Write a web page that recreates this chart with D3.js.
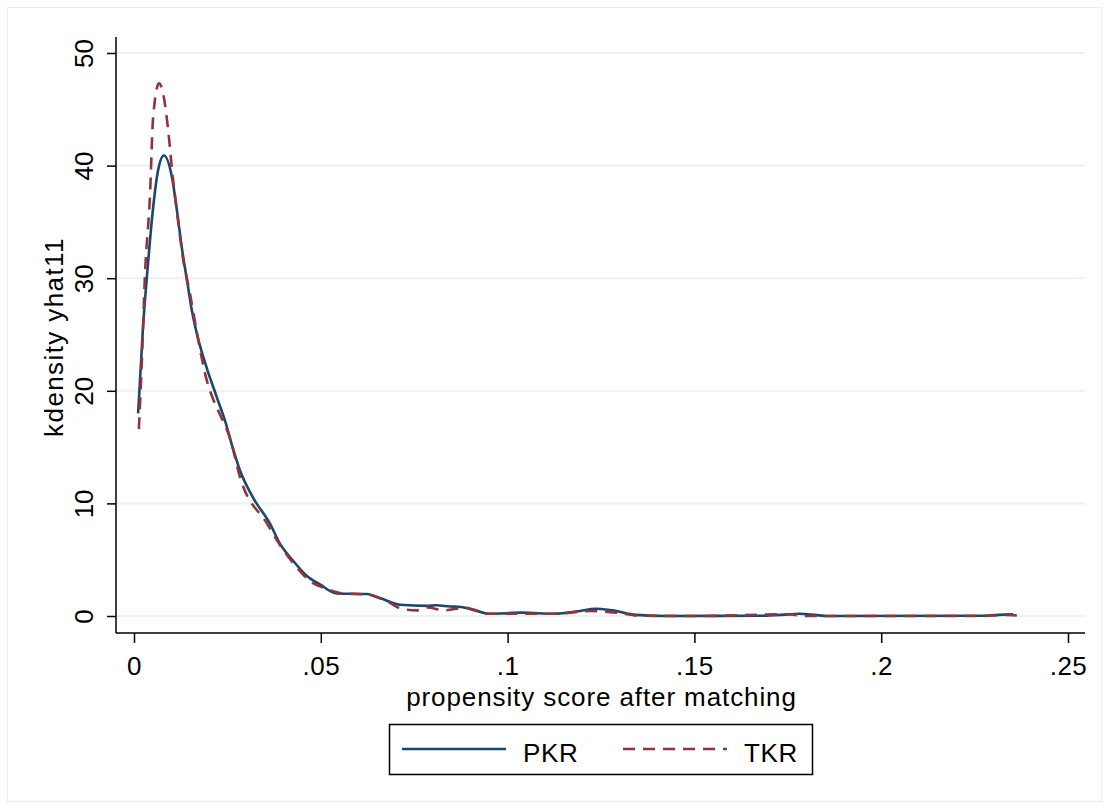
<!DOCTYPE html>
<html>
<head>
<meta charset="utf-8">
<script src="https://cdn.jsdelivr.net/npm/d3@7"></script>
<style>
  body { margin: 0; background: #fff; }
  svg text { font-family: "Liberation Sans", Arial, sans-serif; fill: #000; }
</style>
</head>
<body>
<svg id="canvas" width="1109" height="809"></svg>
<script>
// kdensity curves: [score, density]
const pkr = [
  [0.0011, 18.0], [0.0024, 25.6], [0.0038, 31.5], [0.0051, 36.2], [0.0064, 39.5],
  [0.0080, 40.9], [0.0102, 38.9], [0.0115, 36.0], [0.0128, 32.7], [0.0142, 29.8],
  [0.0155, 27.1], [0.0171, 24.7], [0.0195, 22.0], [0.0222, 19.4], [0.0244, 17.3],
  [0.0262, 15.2], [0.0284, 12.9], [0.0319, 10.5], [0.0364, 8.2], [0.0391, 6.4],
  [0.0426, 4.9], [0.0463, 3.55], [0.0498, 2.8], [0.0543, 2.0], [0.0624, 1.95],
  [0.0658, 1.6], [0.0712, 1.0], [0.0784, 0.9], [0.0808, 0.95], [0.0846, 0.85],
  [0.0875, 0.8], [0.0913, 0.5], [0.0950, 0.2], [0.1039, 0.3], [0.1124, 0.2],
  [0.1194, 0.45], [0.1234, 0.65], [0.1280, 0.5], [0.1344, 0.1], [0.1419, 0.0],
  [0.1676, 0.02], [0.1743, 0.12], [0.1780, 0.2], [0.1823, 0.1], [0.1855, 0.0],
  [0.2264, 0.02], [0.2315, 0.1], [0.2353, 0.15]
]
const tkr = [
  [0.0013, 16.6], [0.0021, 22.6], [0.0029, 30.0], [0.0043, 37.5], [0.0051, 44.2],
  [0.0067, 47.3], [0.0078, 46.4], [0.0091, 43.3], [0.0104, 38.9], [0.0118, 35.1],
  [0.0131, 31.8], [0.0150, 28.6], [0.0171, 24.7], [0.0195, 20.9], [0.0209, 19.5],
  [0.0230, 17.9], [0.0257, 15.8], [0.0284, 12.3], [0.0356, 8.2], [0.0383, 6.7],
  [0.0436, 4.3], [0.0471, 3.1], [0.0517, 2.4], [0.0559, 2.0], [0.0624, 1.9],
  [0.0677, 1.3], [0.0720, 0.6], [0.0757, 0.5], [0.0786, 0.75], [0.0830, 0.5],
  [0.0886, 0.74], [0.0950, 0.2], [0.1124, 0.2], [0.1223, 0.44], [0.1290, 0.3],
  [0.1354, 0.02], [0.1515, 0.0], [0.1748, 0.15], [0.1801, 0.0], [0.2264, 0.0],
  [0.2337, 0.1], [0.2366, 0.05]
]

const xTicks = [0, 0.05, 0.1, 0.15, 0.2, 0.25]
const xTickLabels = ["0", ".05", ".1", ".15", ".2", ".25"]
const yTicks = [0, 10, 20, 30, 40, 50]
const seriesNames = ["PKR", "TKR"]
const seriesColors = ["#1a476f", "#90353b"]

const svg = d3.select("#canvas")
const fontSize = "26px"

// region de la grafica (estilo stata)
const plotLeft = 116, plotRight = 1085, plotTop = 37, plotBottom = 633

const x = d3.scaleLinear().domain([0, 0.25]).range([134, 1068])
const y = d3.scaleLinear().domain([0, 50]).range([616, 53])

// borde exterior
svg.append("rect")
  .attr("x", 7.5).attr("y", 7.5)
  .attr("width", 1094).attr("height", 794)
  .attr("fill", "#fff")
  .attr("stroke", "#e6eef0")
  .attr("stroke-width", 1)

// lineas de grid
svg.append("g")
  .selectAll("line")
  .data(yTicks)
  .enter()
  .append("line")
  .attr("x1", plotLeft).attr("x2", plotRight)
  .attr("y1", d => y(d)).attr("y2", d => y(d))
  .attr("stroke", "#eaf2f3")
  .attr("stroke-width", 2)

// eje y
const yAxis = d3.axisLeft(y).tickValues(yTicks).tickSize(9).tickPadding(0).tickFormat(d3.format("d"))
const gy = svg.append("g").attr("transform", `translate(${plotLeft},0)`).call(yAxis)
gy.select(".domain").remove()
gy.selectAll(".tick line").attr("stroke", "#000").attr("stroke-width", 1.5)
gy.selectAll(".tick text")
  .attr("x", 0).attr("y", 0).attr("dy", null)
  .attr("transform", "translate(-23,0) rotate(-90)")
  .attr("text-anchor", "middle")
  .style("font-size", fontSize)
  .style("font-family", "Liberation Sans, Arial, sans-serif")
svg.append("line")
  .attr("x1", plotLeft).attr("x2", plotLeft)
  .attr("y1", plotTop).attr("y2", plotBottom)
  .attr("stroke", "#000").attr("stroke-width", 1.5)

// eje x
const xAxis = d3.axisBottom(x).tickValues(xTicks).tickSize(10).tickPadding(0)
  .tickFormat((d, i) => xTickLabels[i])
const gx = svg.append("g").attr("transform", `translate(0,${plotBottom})`).call(xAxis)
gx.select(".domain").remove()
gx.selectAll(".tick line").attr("stroke", "#000").attr("stroke-width", 1.5)
gx.selectAll(".tick text")
  .attr("y", 42).attr("dy", null)
  .style("font-size", fontSize)
  .style("letter-spacing", "0.5px")
  .style("font-family", "Liberation Sans, Arial, sans-serif")
svg.append("line")
  .attr("x1", plotLeft).attr("x2", plotRight)
  .attr("y1", plotBottom).attr("y2", plotBottom)
  .attr("stroke", "#000").attr("stroke-width", 1.5)

// titulos de ejes
svg.append("text")
  .attr("x", (plotLeft + plotRight) / 2 + 1).attr("y", 706)
  .attr("text-anchor", "middle")
  .style("font-size", fontSize)
  .style("letter-spacing", "0.9px")
  .text("propensity score after matching")
svg.append("text")
  .attr("transform", "translate(63,337) rotate(-90)")
  .attr("text-anchor", "middle")
  .style("font-size", fontSize)
  .style("letter-spacing", "1.4px")
  .text("kdensity yhat11")

// curvas
const line = d3.line()
  .x(d => x(d[0]))
  .y(d => y(d[1]))
  .curve(d3.curveMonotoneX)

svg.append("path")
  .datum(pkr)
  .attr("d", line)
  .attr("fill", "none")
  .attr("stroke", seriesColors[0])
  .attr("stroke-width", 2.6)

svg.append("path")
  .datum(tkr)
  .attr("d", line)
  .attr("fill", "none")
  .attr("stroke", seriesColors[1])
  .attr("stroke-width", 2.6)
  .attr("stroke-dasharray", "12,8")

// leyenda
const legend = svg.append("g")
legend.append("rect")
  .attr("x", 389.5).attr("y", 724.5)
  .attr("width", 423).attr("height", 50)
  .attr("fill", "#fff")
  .attr("stroke", "#000")
  .attr("stroke-width", 1.5)

const legX = [402, 623]
seriesNames.forEach((name, i) => {
  legend.append("line")
    .attr("x1", legX[i]).attr("x2", legX[i] + 104)
    .attr("y1", 749).attr("y2", 749)
    .attr("stroke", seriesColors[i])
    .attr("stroke-width", 2.6)
    .attr("stroke-dasharray", i === 1 ? "12,8" : null)
  legend.append("text")
    .attr("x", legX[i] + 121).attr("y", 762)
    .style("font-size", fontSize)
    .style("letter-spacing", "0.6px")
    .text(name)
})
</script>
</body>
</html>
